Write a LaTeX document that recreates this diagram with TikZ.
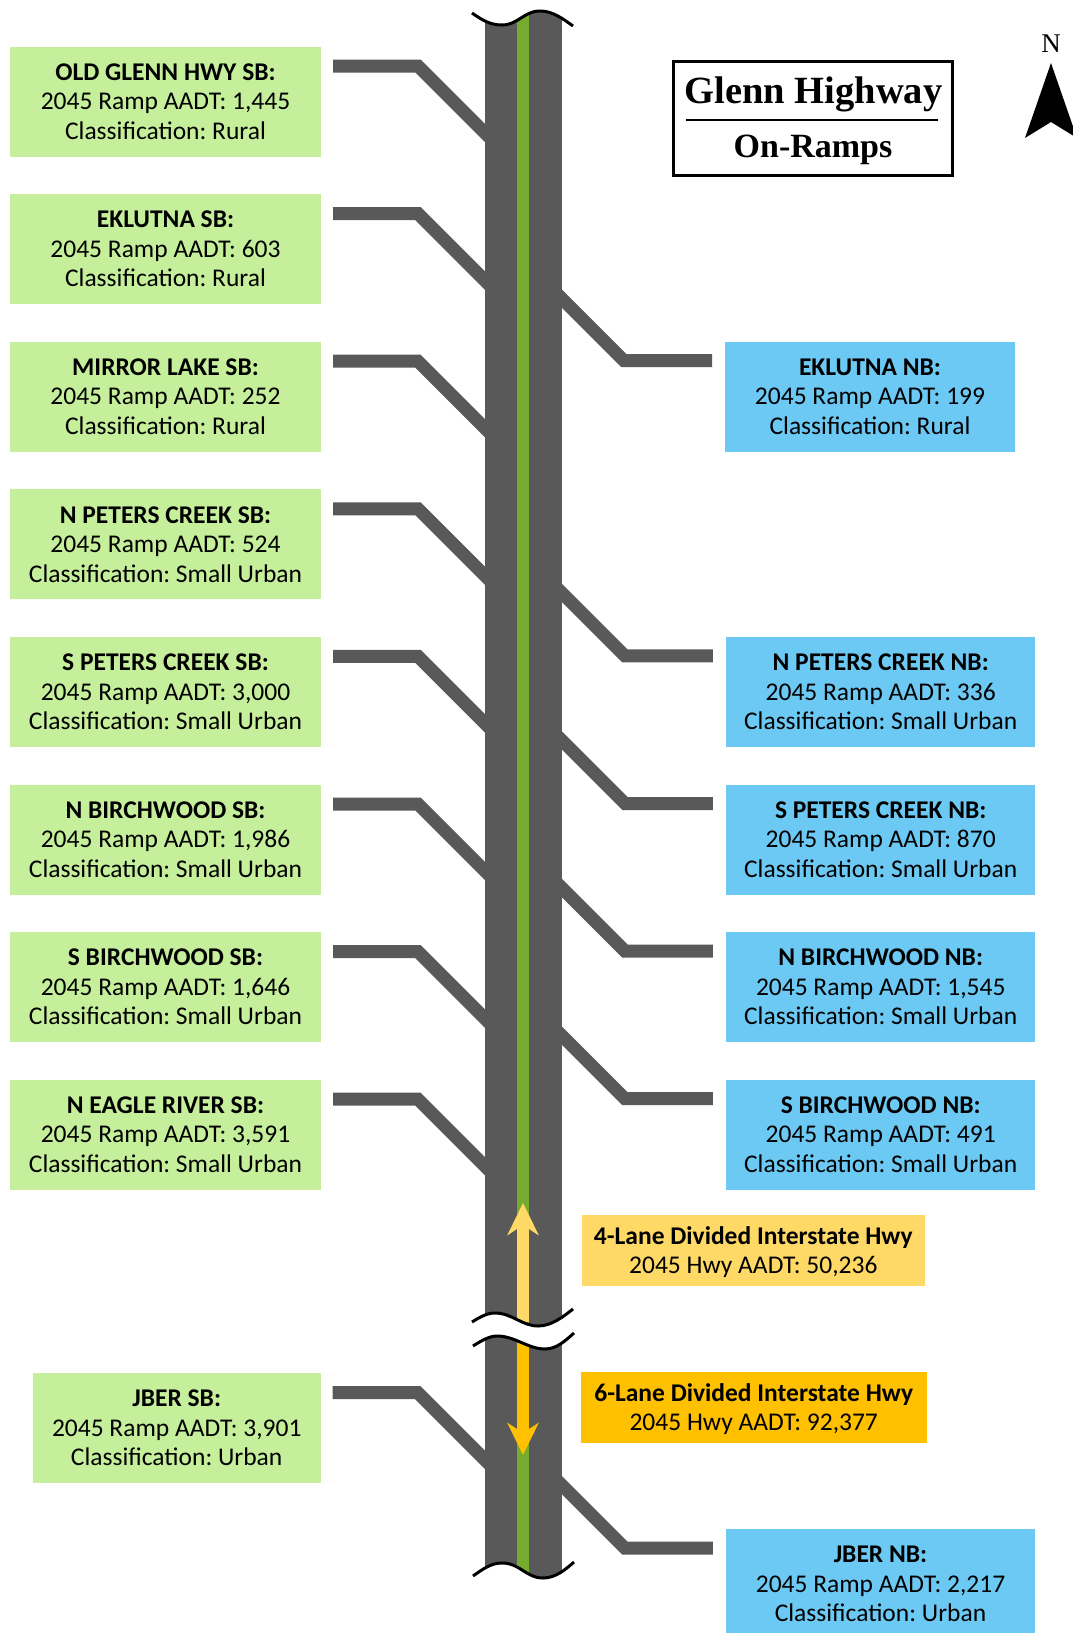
\documentclass[tikz,border=0pt]{standalone}
\usepackage{fontspec}
\setmainfont{Carlito}
\newfontfamily\serifttl{Liberation Serif}
\usetikzlibrary{calc,arrows.meta}
\frenchspacing
\definecolor{roadgray}{RGB}{89,89,89}
\definecolor{mediangreen}{RGB}{118,170,48}
\definecolor{sbgreen}{RGB}{198,239,155}
\definecolor{nbblue}{RGB}{108,201,244}
\definecolor{fourlane}{RGB}{255,217,102}
\definecolor{sixlane}{RGB}{255,192,0}
\newcommand*\rampinfo[3]{\textbf{#1}\\2045 Ramp AADT: #2\\Classification: #3}

\begin{document}
\begin{tikzpicture}[x=1pt,y=-1pt,
  ramp/.style={draw=roadgray,line width=13pt},
  infobox/.style={inner sep=0pt,outer sep=0pt,minimum height=110pt,align=center,font={\fontsize{25.5}{29.5}\selectfont}},
  sbbox/.style={infobox,fill=sbgreen,minimum width=311pt},
  nbbox/.style={infobox,fill=nbblue,minimum width=309.5pt},
  hwybox/.style={inner sep=0pt,outer sep=0pt,minimum height=71pt,text depth=0pt,align=center,font={\fontsize{25.5}{29}\selectfont}},
  breakline/.style={line width=3pt,black}]
\useasboundingbox (0,0) rectangle (1073,1633);

% southbound on-ramps (left)
\node[sbbox] (oldglennsb) at (165.5,101.5) {\rampinfo{OLD GLENN HWY SB:}{1,445}{Rural}};
\node[sbbox] (eklutnasb) at (165.5,249.1) {\rampinfo{EKLUTNA SB:}{603}{Rural}};
\node[sbbox] (mirrorsb) at (165.5,396.7) {\rampinfo{MIRROR LAKE SB:}{252}{Rural}};
\node[sbbox] (npeterssb) at (165.5,544.3) {\rampinfo{N PETERS CREEK SB:}{524}{Small Urban}};
\node[sbbox] (speterssb) at (165.5,691.9) {\rampinfo{S PETERS CREEK SB:}{3,000}{Small Urban}};
\node[sbbox] (nbirchsb) at (165.5,839.5) {\rampinfo{N BIRCHWOOD SB:}{1,986}{Small Urban}};
\node[sbbox] (sbirchsb) at (165.5,987.1) {\rampinfo{S BIRCHWOOD SB:}{1,646}{Small Urban}};
\node[sbbox] (neaglesb) at (165.5,1134.7) {\rampinfo{N EAGLE RIVER SB:}{3,591}{Small Urban}};
\node[sbbox,minimum width=288pt] (jbersb) at (176.7,1428) {\rampinfo{JBER SB:}{3,901}{Urban}};

% northbound on-ramps (right)
\node[nbbox,minimum width=290pt] (eklutnanb) at (870,396.7) {\rampinfo{EKLUTNA NB:}{199}{Rural}};
\node[nbbox] (npetersnb) at (880.7,691.9) {\rampinfo{N PETERS CREEK NB:}{336}{Small Urban}};
\node[nbbox] (spetersnb) at (880.7,839.5) {\rampinfo{S PETERS CREEK NB:}{870}{Small Urban}};
\node[nbbox] (nbirchnb) at (880.7,987.1) {\rampinfo{N BIRCHWOOD NB:}{1,545}{Small Urban}};
\node[nbbox] (sbirchnb) at (880.7,1134.7) {\rampinfo{S BIRCHWOOD NB:}{491}{Small Urban}};
\node[nbbox] (jbernb) at (880.5,1584) {\rampinfo{JBER NB:}{2,217}{Urban}};

% ramps
\foreach \b in {oldglennsb,eklutnasb,mirrorsb,npeterssb,speterssb,nbirchsb,sbirchsb,neaglesb,jbersb}
  \draw[ramp] ($(\b.north east)+(12,19.5)$) -- ++(85,0) -- ++(80,80);
\foreach \b in {eklutnanb,npetersnb,spetersnb,nbirchnb,sbirchnb,jbernb}
  \draw[ramp] ($(\b.north west)+(-13,19)$) -- ++(-88,0) -- ++(-80,-80);

% highway
\fill[roadgray] (485,10) rectangle (562,1590);
\fill[mediangreen] (517,10) rectangle (529,1590);

\draw[fourlane,line width=12pt,-{Stealth[length=32pt,width=31pt,inset=10pt]}] (523,1322) -- (523,1203);
\draw[sixlane,line width=12pt,-{Stealth[length=32pt,width=31pt,inset=10pt]}] (523,1338) -- (523,1455);

% breaks
\fill[white] (472,13) .. controls (482,20) and (490,25) .. (502,25) .. controls (518,25) and (524,11) .. (540,11) .. controls (553,11) and (563,19) .. (573,26) -- (573,0) -- (472,0) -- cycle;
\draw[breakline] (472,13) .. controls (482,20) and (490,25) .. (502,25) .. controls (518,25) and (524,11) .. (540,11) .. controls (553,11) and (563,19) .. (573,26);

\fill[white] (472,1322) .. controls (480,1317) and (487,1313) .. (495,1313) .. controls (512,1313) and (522,1326) .. (538,1326) .. controls (552,1326) and (564,1316) .. (573,1309)
  -- (574,1333) .. controls (566,1340) and (557,1349) .. (545,1349) .. controls (528,1349) and (515,1336) .. (497,1336) .. controls (489,1336) and (481,1341) .. (473,1346) -- cycle;
\draw[breakline] (472,1322) .. controls (480,1317) and (487,1313) .. (495,1313) .. controls (512,1313) and (522,1326) .. (538,1326) .. controls (552,1326) and (564,1316) .. (573,1309);
\draw[breakline] (473,1346) .. controls (481,1341) and (489,1336) .. (497,1336) .. controls (515,1336) and (528,1349) .. (545,1349) .. controls (557,1349) and (566,1340) .. (574,1333);

\fill[white] (473,1576) .. controls (483,1569) and (491,1563) .. (502,1563) .. controls (520,1563) and (526,1578) .. (543,1578) .. controls (556,1578) and (566,1569) .. (574,1562) -- (574,1600) -- (473,1600) -- cycle;
\draw[breakline] (473,1576) .. controls (483,1569) and (491,1563) .. (502,1563) .. controls (520,1563) and (526,1578) .. (543,1578) .. controls (556,1578) and (566,1569) .. (574,1562);

% highway labels
\node[hwybox,fill=fourlane,minimum width=343pt] (fourlanebox) at (753.3,1250.5) {\textbf{4-Lane Divided Interstate Hwy}\\2045 Hwy AADT: 50,236};
\node[hwybox,fill=sixlane,minimum width=346pt] (sixlanebox) at (753.7,1407) {\textbf{6-Lane Divided Interstate Hwy}\\2045 Hwy AADT: 92,377};

% title
\node[draw,fill=white,line width=3pt,minimum width=279pt,minimum height=114pt,inner sep=0pt] (titlebox) at (813,118.5) {};
\node[font=\serifttl\bfseries\fontsize{38.5}{40}\selectfont,anchor=base] (glenn) at (813.5,103) {Glenn Highway};
\draw[line width=2pt] (686,120) -- (938,120);
\node[font=\serifttl\bfseries\fontsize{34}{36}\selectfont,anchor=base] (onramps) at (813,157) {On-Ramps};

% north arrow
\node[font=\serifttl\fontsize{27}{28}\selectfont,anchor=base] (north) at (1051,52) {N};
\fill (1051,63) -- (1077,138) -- (1051,122) -- (1025,138) -- cycle;
\end{tikzpicture}
\end{document}
